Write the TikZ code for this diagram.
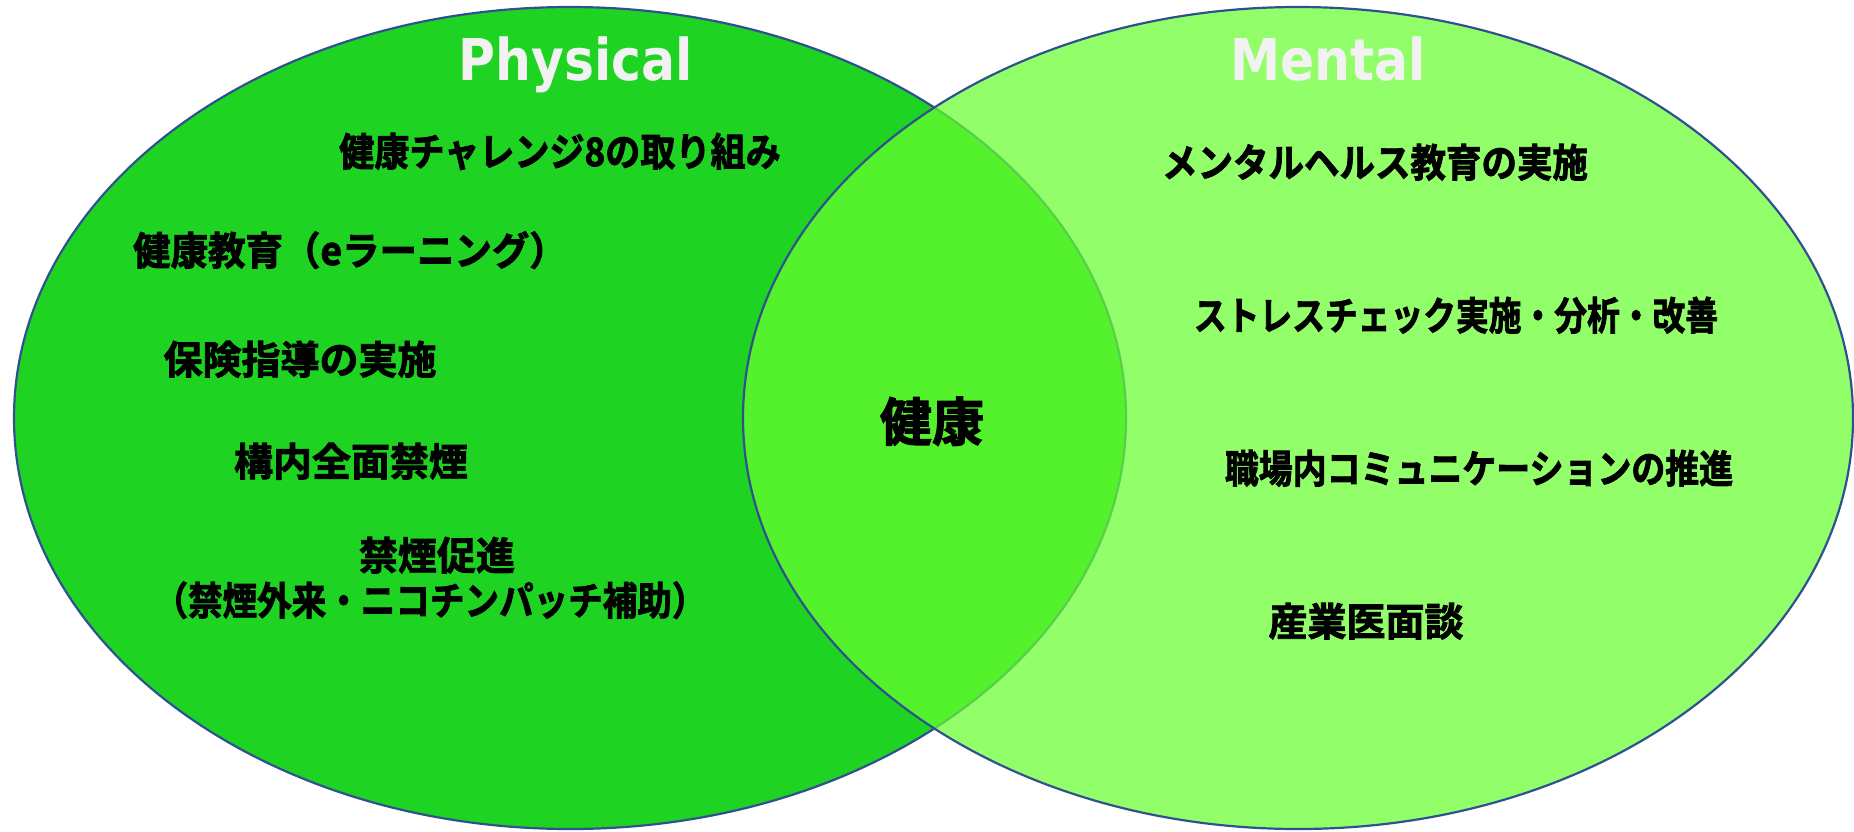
\documentclass[tikz,border=0pt]{standalone}
\usepackage{graphicx}
\usepackage{fontspec}
\newfontfamily\jpfont{Noto Sans CJK JP Bold}[FakeBold=2.2]
\newfontfamily\titlefont{DejaVu Sans}
\definecolor{leftgreen}{RGB}{30,211,34}
\definecolor{rightgreen}{RGB}{104,255,48}
\definecolor{edgeblue}{RGB}{47,82,143}
\definecolor{titlegray}{RGB}{242,242,242}
\begin{document}
\begin{tikzpicture}[x=1pt,y=-1pt,
  ring/.style={draw=edgeblue,line width=2.2pt},
  jp/.style={font=\jpfont\fontsize{39}{45}\selectfont, anchor=base, inner sep=0pt, text=black},
  ttl/.style={font=\titlefont\bfseries\fontsize{57.6}{60}\selectfont, text=titlegray, anchor=base, inner sep=0pt}]
\useasboundingbox (0,0) rectangle (1854,831);
\path[ring, fill=leftgreen] (570,418) ellipse [x radius=556pt, y radius=411pt];
\path[ring, fill=rightgreen, fill opacity=0.72] (1298,418) ellipse [x radius=555pt, y radius=411pt];
\node[ttl] (phys) at (576,80) {\scalebox{0.875}[1]{Physical}};
\node[ttl] (ment) at (1328,80) {\scalebox{0.875}[1]{Mental}};
\node[jp] (p1) at (560,166) {\scalebox{0.90}[1]{健康チャレンジ8の取り組み}};
\node[jp] (p2) at (350,265) {\scalebox{0.96}[1]{健康教育（eラーニング）}};
\node[jp] (p3) at (300,374) {保険指導の実施};
\node[jp] (p4) at (351,476) {構内全面禁煙};
\node[jp] (p5) at (437,570) {禁煙促進};
\node[jp] (p6) at (430,615) {\scalebox{0.886}[1]{（禁煙外来・ニコチンパッチ補助）}};
\node[jp] (m1) at (1375,177) {\scalebox{0.91}[1]{メンタルヘルス教育の実施}};
\node[jp] (m2) at (1456,330) {\scalebox{0.84}[1]{ストレスチェック実施・分析・改善}};
\node[jp] (m3) at (1479,483) {\scalebox{0.87}[1]{職場内コミュニケーションの推進}};
\node[jp] (m4) at (1366,636) {産業医面談};
\node[jp, font=\jpfont\fontsize{52}{60}\selectfont] (core) at (932,441) {健康};
\end{tikzpicture}
\end{document}
